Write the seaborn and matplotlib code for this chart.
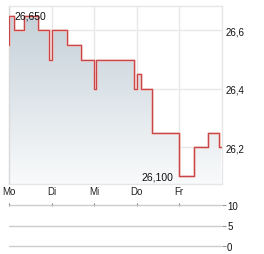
import numpy as np
import matplotlib
matplotlib.use("Agg")
import matplotlib.pyplot as plt
import seaborn as sns
from matplotlib.colors import LinearSegmentedColormap

# ---- data ----
days = ["Mo", "Di", "Mi", "Do", "Fr"]
day_pos = [0, 1, 2, 3, 4]
t = [0.00, 0.01, 0.12, 0.35, 0.69, 0.95, 1.01, 1.36, 1.69, 2.00, 2.04,
     2.95, 3.02, 3.10, 3.37, 4.00, 4.35, 4.69, 4.94, 4.99]
price = [26.55, 26.65, 26.60, 26.65, 26.60, 26.50, 26.60, 26.55, 26.50, 26.40, 26.50,
         26.40, 26.45, 26.40, 26.25, 26.10, 26.20, 26.25, 26.20, 26.20]
price_ticks = [26.2, 26.4, 26.6]
price_tick_labels = ["26,2", "26,4", "26,6"]
max_label = "26,650"
min_label = "26,100"
vol_ticks = [0, 5, 10]
vol_tick_labels = ["0", "5", "10"]

sns.set_theme(style="white")
plt.rcParams["font.family"] = ["Liberation Sans", "DejaVu Sans"]

W, H = 264, 255
fig = plt.figure(figsize=(W / 100, H / 100), dpi=100)

def rect(l, t_, r, b):
    return [l / W, 1 - b / H, (r - l) / W, (b - t_) / H]

ylo, yhi = 26.0735, 26.683
ax = fig.add_axes(rect(9, 7.3, 221.5, 185))

# gradient fill under line
poly = ax.fill_between(t, price, ylo, step="post", color="none", lw=0)
grad = np.linspace(0, 1, 256).reshape(-1, 1)
cmap = LinearSegmentedColormap.from_list("g", ["#f9fafb", "#c4d0d8"])
im = ax.imshow(grad, extent=[0, 5, ylo, 26.66], origin="lower", aspect="auto",
               cmap=cmap, zorder=1)
im.set_clip_path(poly.get_paths()[0], ax.transData)

sns.lineplot(x=t, y=price, drawstyle="steps-post", color="#eebcbc", lw=1.8,
             ax=ax, zorder=3)
sns.lineplot(x=t, y=price, drawstyle="steps-post", color="#c84646", lw=0.8,
             ax=ax, zorder=4)

ax.set_xlim(0, 5)
ax.set_ylim(ylo, yhi)
ax.set_xticks(day_pos)
ax.set_xticklabels(days, fontsize=7, color="#222222")
ax.set_yticks(price_ticks)
ax.set_yticklabels(price_tick_labels, fontsize=7, color="#111111")
ax.yaxis.tick_right()
ax.tick_params(axis="both", length=0)
ax.tick_params(axis="x", pad=1.5)
ax.tick_params(axis="y", pad=3)
ax.grid(True, color="#e8e8e8", lw=1)
ax.set_axisbelow(True)
for s in ax.spines.values():
    s.set_color("#e6e6e6")
    s.set_linewidth(1)
ax.spines["left"].set_color("#d9d9d9")

ax.text(0.12, 26.652, max_label, ha="left", va="center", fontsize=7.5,
        color="#111111", zorder=5)
ax.text(3.86, 26.1, min_label, ha="right", va="center", fontsize=7.5,
        color="#111111", zorder=5)

# volume panel
vax = fig.add_axes(rect(9, 203.95, 221.5, 249.05))
vax.set_xlim(0, 5)
vax.set_ylim(-0.5, 10.5)
vax.set_yticks(vol_ticks)
vax.set_yticklabels(vol_tick_labels, fontsize=7, color="#111111")
vax.yaxis.tick_right()
vax.tick_params(axis="y", length=3, width=0.8, color="#999999", pad=1)
vax.set_xticks(day_pos)
vax.xaxis.tick_top()
vax.tick_params(axis="x", length=2.5, width=0.8, color="#777777",
                direction="in", labeltop=False)
for s in vax.spines.values():
    s.set_visible(False)
for v in vol_ticks:
    vax.axhline(v, color="#cccccc", lw=1, zorder=1)
vax.set_facecolor("none")

fig.savefig("out.png", dpi=100)
